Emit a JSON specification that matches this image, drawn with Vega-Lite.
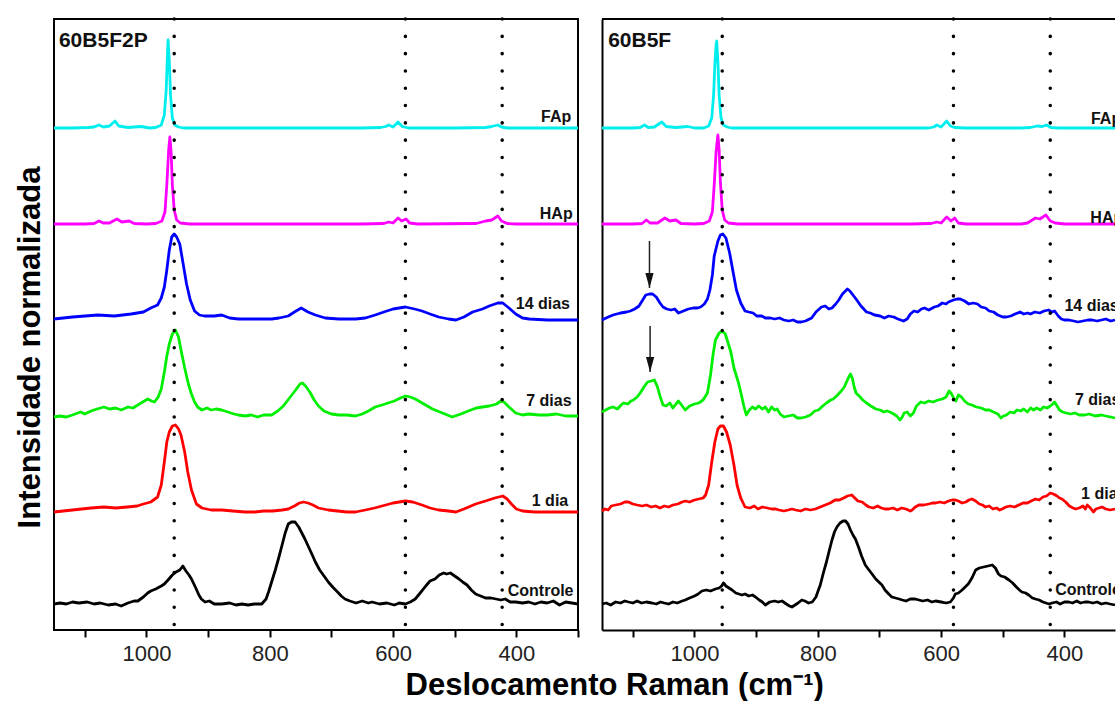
{
"$schema":"https://vega.github.io/schema/vega-lite/v6.json",
"background":"white",
"padding":{"left":13,"top":16,"right":0,"bottom":0},
"config":{"font":"Liberation Sans","view":{"stroke":"black","strokeWidth":2},"axis":{"grid":false}},
"title":{"text":"Deslocamento Raman (cm⁻¹)","orient":"bottom","anchor":"middle","fontSize":31,"fontWeight":"bold","color":"black","offset":6,"dx":50},
"bounds":"flush",
"spacing":24,
"datasets":{
"marcadores":[{"w":955},{"w":580},{"w":423}],
"paineis":[{"p":"A","t":"60B5F2P","w":1142,"i":583},{"p":"B","t":"60B5F","w":1140,"i":583}],
"setas":[{"p":"B","w":1073,"i":389,"i2":342},{"p":"B","w":1072,"i":304,"i2":258}],
"rotulos":[
{"p":"A","t":"FAp","w":360,"i":508},{"p":"A","t":"HAp","w":362,"i":411},{"p":"A","t":"14 dias","w":401,"i":321},{"p":"A","t":"7 dias","w":384,"i":224},{"p":"A","t":"1 dia","w":375,"i":124},{"p":"A","t":"Controle","w":414,"i":34},
{"p":"B","t":"FAp","w":357,"i":506},{"p":"B","t":"HAp","w":358,"i":407},{"p":"B","t":"14 dias","w":400,"i":319},{"p":"B","t":"7 dias","w":383,"i":225},{"p":"B","t":"1 dia","w":373,"i":131},{"p":"B","t":"Controle","w":415,"i":35}],
"espectros":[
{"p":"A","s":"FAp","w":1150,"i":502},{"p":"A","s":"FAp","w":1120,"i":502},{"p":"A","s":"FAp","w":1095,"i":502.5},{"p":"A","s":"FAp","w":1085,"i":503},{"p":"A","s":"FAp","w":1077,"i":505},{"p":"A","s":"FAp","w":1070,"i":503},{"p":"A","s":"FAp","w":1060,"i":504},{"p":"A","s":"FAp","w":1051,"i":509},{"p":"A","s":"FAp","w":1045,"i":504},{"p":"A","s":"FAp","w":1030,"i":502.5},{"p":"A","s":"FAp","w":1009,"i":503.5},{"p":"A","s":"FAp","w":995,"i":502},{"p":"A","s":"FAp","w":985,"i":502.5},{"p":"A","s":"FAp","w":976,"i":505},{"p":"A","s":"FAp","w":971,"i":515},{"p":"A","s":"FAp","w":968,"i":540},{"p":"A","s":"FAp","w":966,"i":575},{"p":"A","s":"FAp","w":965,"i":590},{"p":"A","s":"FAp","w":963,"i":570},{"p":"A","s":"FAp","w":961,"i":535},{"p":"A","s":"FAp","w":958,"i":512},{"p":"A","s":"FAp","w":954,"i":505},{"p":"A","s":"FAp","w":948,"i":503},{"p":"A","s":"FAp","w":940,"i":502},{"p":"A","s":"FAp","w":850,"i":502},{"p":"A","s":"FAp","w":750,"i":502},{"p":"A","s":"FAp","w":650,"i":502},{"p":"A","s":"FAp","w":620,"i":502.5},{"p":"A","s":"FAp","w":612,"i":503.5},{"p":"A","s":"FAp","w":607,"i":505},{"p":"A","s":"FAp","w":600,"i":503},{"p":"A","s":"FAp","w":592,"i":508},{"p":"A","s":"FAp","w":585,"i":503.5},{"p":"A","s":"FAp","w":575,"i":502},{"p":"A","s":"FAp","w":500,"i":502},{"p":"A","s":"FAp","w":450,"i":502.5},{"p":"A","s":"FAp","w":440,"i":503.5},{"p":"A","s":"FAp","w":430,"i":505},{"p":"A","s":"FAp","w":424,"i":503},{"p":"A","s":"FAp","w":415,"i":502},{"p":"A","s":"FAp","w":300,"i":502},
{"p":"A","s":"HAp","w":1150,"i":406},{"p":"A","s":"HAp","w":1100,"i":406},{"p":"A","s":"HAp","w":1085,"i":406.5},{"p":"A","s":"HAp","w":1077,"i":409},{"p":"A","s":"HAp","w":1070,"i":407},{"p":"A","s":"HAp","w":1060,"i":407},{"p":"A","s":"HAp","w":1048,"i":411},{"p":"A","s":"HAp","w":1040,"i":408},{"p":"A","s":"HAp","w":1028,"i":409},{"p":"A","s":"HAp","w":1020,"i":406.5},{"p":"A","s":"HAp","w":1000,"i":406},{"p":"A","s":"HAp","w":985,"i":406.5},{"p":"A","s":"HAp","w":975,"i":409},{"p":"A","s":"HAp","w":970,"i":418},{"p":"A","s":"HAp","w":967,"i":445},{"p":"A","s":"HAp","w":964,"i":480},{"p":"A","s":"HAp","w":962,"i":493},{"p":"A","s":"HAp","w":960,"i":478},{"p":"A","s":"HAp","w":958,"i":445},{"p":"A","s":"HAp","w":955,"i":420},{"p":"A","s":"HAp","w":951,"i":410},{"p":"A","s":"HAp","w":945,"i":407},{"p":"A","s":"HAp","w":930,"i":406},{"p":"A","s":"HAp","w":650,"i":406},{"p":"A","s":"HAp","w":615,"i":406.5},{"p":"A","s":"HAp","w":607,"i":408},{"p":"A","s":"HAp","w":600,"i":407},{"p":"A","s":"HAp","w":592,"i":412},{"p":"A","s":"HAp","w":586,"i":409},{"p":"A","s":"HAp","w":579,"i":411},{"p":"A","s":"HAp","w":573,"i":407},{"p":"A","s":"HAp","w":560,"i":406},{"p":"A","s":"HAp","w":465,"i":406.5},{"p":"A","s":"HAp","w":450,"i":409},{"p":"A","s":"HAp","w":440,"i":410},{"p":"A","s":"HAp","w":430,"i":414},{"p":"A","s":"HAp","w":424,"i":409},{"p":"A","s":"HAp","w":415,"i":406.5},{"p":"A","s":"HAp","w":400,"i":406},{"p":"A","s":"HAp","w":300,"i":406},
{"p":"A","s":"14 dias","w":1150,"i":311},{"p":"A","s":"14 dias","w":1120,"i":313},{"p":"A","s":"14 dias","w":1079,"i":315},{"p":"A","s":"14 dias","w":1052,"i":314},{"p":"A","s":"14 dias","w":1025,"i":316},{"p":"A","s":"14 dias","w":1005,"i":318},{"p":"A","s":"14 dias","w":993,"i":322},{"p":"A","s":"14 dias","w":982,"i":325},{"p":"A","s":"14 dias","w":976,"i":332},{"p":"A","s":"14 dias","w":971,"i":343},{"p":"A","s":"14 dias","w":967,"i":360},{"p":"A","s":"14 dias","w":963,"i":380},{"p":"A","s":"14 dias","w":959,"i":393},{"p":"A","s":"14 dias","w":955,"i":396},{"p":"A","s":"14 dias","w":951,"i":393},{"p":"A","s":"14 dias","w":946,"i":386},{"p":"A","s":"14 dias","w":941,"i":368},{"p":"A","s":"14 dias","w":935,"i":346},{"p":"A","s":"14 dias","w":929,"i":330},{"p":"A","s":"14 dias","w":922,"i":319},{"p":"A","s":"14 dias","w":914,"i":315},{"p":"A","s":"14 dias","w":906,"i":314},{"p":"A","s":"14 dias","w":890,"i":314},{"p":"A","s":"14 dias","w":878,"i":315},{"p":"A","s":"14 dias","w":865,"i":312},{"p":"A","s":"14 dias","w":851,"i":311},{"p":"A","s":"14 dias","w":820,"i":311},{"p":"A","s":"14 dias","w":797,"i":311},{"p":"A","s":"14 dias","w":785,"i":312},{"p":"A","s":"14 dias","w":770,"i":314},{"p":"A","s":"14 dias","w":760,"i":318},{"p":"A","s":"14 dias","w":749,"i":322},{"p":"A","s":"14 dias","w":738,"i":318},{"p":"A","s":"14 dias","w":726,"i":315},{"p":"A","s":"14 dias","w":710,"i":312},{"p":"A","s":"14 dias","w":688,"i":311},{"p":"A","s":"14 dias","w":661,"i":311},{"p":"A","s":"14 dias","w":645,"i":312},{"p":"A","s":"14 dias","w":629,"i":315},{"p":"A","s":"14 dias","w":615,"i":318},{"p":"A","s":"14 dias","w":600,"i":321},{"p":"A","s":"14 dias","w":580,"i":323},{"p":"A","s":"14 dias","w":565,"i":321},{"p":"A","s":"14 dias","w":553,"i":319},{"p":"A","s":"14 dias","w":540,"i":316},{"p":"A","s":"14 dias","w":526,"i":313},{"p":"A","s":"14 dias","w":510,"i":311},{"p":"A","s":"14 dias","w":498,"i":310},{"p":"A","s":"14 dias","w":485,"i":313},{"p":"A","s":"14 dias","w":471,"i":318},{"p":"A","s":"14 dias","w":455,"i":321},{"p":"A","s":"14 dias","w":444,"i":324},{"p":"A","s":"14 dias","w":430,"i":327},{"p":"A","s":"14 dias","w":422,"i":327},{"p":"A","s":"14 dias","w":412,"i":322},{"p":"A","s":"14 dias","w":401,"i":316},{"p":"A","s":"14 dias","w":390,"i":312},{"p":"A","s":"14 dias","w":379,"i":311},{"p":"A","s":"14 dias","w":350,"i":310},{"p":"A","s":"14 dias","w":300,"i":310},
{"p":"A","s":"7 dias","w":1150,"i":213},{"p":"A","s":"7 dias","w":1140,"i":214},{"p":"A","s":"7 dias","w":1130,"i":213},{"p":"A","s":"7 dias","w":1120,"i":215},{"p":"A","s":"7 dias","w":1107,"i":218},{"p":"A","s":"7 dias","w":1100,"i":216},{"p":"A","s":"7 dias","w":1090,"i":219},{"p":"A","s":"7 dias","w":1080,"i":221},{"p":"A","s":"7 dias","w":1069,"i":223},{"p":"A","s":"7 dias","w":1060,"i":221},{"p":"A","s":"7 dias","w":1050,"i":222},{"p":"A","s":"7 dias","w":1041,"i":220},{"p":"A","s":"7 dias","w":1030,"i":223},{"p":"A","s":"7 dias","w":1022,"i":222},{"p":"A","s":"7 dias","w":1014,"i":225},{"p":"A","s":"7 dias","w":1006,"i":228},{"p":"A","s":"7 dias","w":998,"i":231},{"p":"A","s":"7 dias","w":992,"i":229},{"p":"A","s":"7 dias","w":987,"i":228},{"p":"A","s":"7 dias","w":981,"i":233},{"p":"A","s":"7 dias","w":976,"i":241},{"p":"A","s":"7 dias","w":971,"i":258},{"p":"A","s":"7 dias","w":967,"i":274},{"p":"A","s":"7 dias","w":963,"i":286},{"p":"A","s":"7 dias","w":958,"i":296},{"p":"A","s":"7 dias","w":953,"i":300},{"p":"A","s":"7 dias","w":948,"i":293},{"p":"A","s":"7 dias","w":944,"i":280},{"p":"A","s":"7 dias","w":938,"i":262},{"p":"A","s":"7 dias","w":932,"i":246},{"p":"A","s":"7 dias","w":927,"i":236},{"p":"A","s":"7 dias","w":922,"i":228},{"p":"A","s":"7 dias","w":917,"i":223},{"p":"A","s":"7 dias","w":910,"i":220},{"p":"A","s":"7 dias","w":902,"i":222},{"p":"A","s":"7 dias","w":895,"i":220},{"p":"A","s":"7 dias","w":887,"i":221},{"p":"A","s":"7 dias","w":878,"i":220},{"p":"A","s":"7 dias","w":868,"i":218},{"p":"A","s":"7 dias","w":858,"i":216},{"p":"A","s":"7 dias","w":851,"i":215},{"p":"A","s":"7 dias","w":840,"i":214},{"p":"A","s":"7 dias","w":830,"i":215},{"p":"A","s":"7 dias","w":820,"i":213},{"p":"A","s":"7 dias","w":810,"i":215},{"p":"A","s":"7 dias","w":797,"i":215},{"p":"A","s":"7 dias","w":787,"i":219},{"p":"A","s":"7 dias","w":778,"i":224},{"p":"A","s":"7 dias","w":768,"i":232},{"p":"A","s":"7 dias","w":758,"i":240},{"p":"A","s":"7 dias","w":751,"i":246},{"p":"A","s":"7 dias","w":747,"i":247},{"p":"A","s":"7 dias","w":742,"i":244},{"p":"A","s":"7 dias","w":735,"i":238},{"p":"A","s":"7 dias","w":728,"i":230},{"p":"A","s":"7 dias","w":721,"i":224},{"p":"A","s":"7 dias","w":712,"i":219},{"p":"A","s":"7 dias","w":700,"i":216},{"p":"A","s":"7 dias","w":688,"i":215},{"p":"A","s":"7 dias","w":675,"i":215},{"p":"A","s":"7 dias","w":661,"i":214},{"p":"A","s":"7 dias","w":650,"i":216},{"p":"A","s":"7 dias","w":640,"i":219},{"p":"A","s":"7 dias","w":629,"i":223},{"p":"A","s":"7 dias","w":618,"i":225},{"p":"A","s":"7 dias","w":608,"i":227},{"p":"A","s":"7 dias","w":598,"i":229},{"p":"A","s":"7 dias","w":588,"i":232},{"p":"A","s":"7 dias","w":580,"i":234},{"p":"A","s":"7 dias","w":572,"i":233},{"p":"A","s":"7 dias","w":564,"i":231},{"p":"A","s":"7 dias","w":550,"i":226},{"p":"A","s":"7 dias","w":536,"i":221},{"p":"A","s":"7 dias","w":520,"i":217},{"p":"A","s":"7 dias","w":504,"i":213},{"p":"A","s":"7 dias","w":490,"i":216},{"p":"A","s":"7 dias","w":478,"i":219},{"p":"A","s":"7 dias","w":465,"i":222},{"p":"A","s":"7 dias","w":455,"i":223},{"p":"A","s":"7 dias","w":444,"i":224},{"p":"A","s":"7 dias","w":432,"i":226},{"p":"A","s":"7 dias","w":425,"i":229},{"p":"A","s":"7 dias","w":420,"i":228},{"p":"A","s":"7 dias","w":412,"i":223},{"p":"A","s":"7 dias","w":401,"i":217},{"p":"A","s":"7 dias","w":390,"i":215},{"p":"A","s":"7 dias","w":380,"i":216},{"p":"A","s":"7 dias","w":363,"i":215},{"p":"A","s":"7 dias","w":350,"i":215},{"p":"A","s":"7 dias","w":335,"i":216},{"p":"A","s":"7 dias","w":320,"i":214},{"p":"A","s":"7 dias","w":300,"i":214},
{"p":"A","s":"1 dia","w":1150,"i":118},{"p":"A","s":"1 dia","w":1135,"i":119},{"p":"A","s":"1 dia","w":1120,"i":120},{"p":"A","s":"1 dia","w":1105,"i":121},{"p":"A","s":"1 dia","w":1090,"i":122},{"p":"A","s":"1 dia","w":1069,"i":123},{"p":"A","s":"1 dia","w":1050,"i":122},{"p":"A","s":"1 dia","w":1031,"i":123},{"p":"A","s":"1 dia","w":1015,"i":124},{"p":"A","s":"1 dia","w":1005,"i":126},{"p":"A","s":"1 dia","w":993,"i":128},{"p":"A","s":"1 dia","w":982,"i":133},{"p":"A","s":"1 dia","w":976,"i":145},{"p":"A","s":"1 dia","w":971,"i":168},{"p":"A","s":"1 dia","w":967,"i":188},{"p":"A","s":"1 dia","w":963,"i":198},{"p":"A","s":"1 dia","w":958,"i":204},{"p":"A","s":"1 dia","w":953,"i":205},{"p":"A","s":"1 dia","w":948,"i":201},{"p":"A","s":"1 dia","w":944,"i":195},{"p":"A","s":"1 dia","w":938,"i":178},{"p":"A","s":"1 dia","w":933,"i":158},{"p":"A","s":"1 dia","w":927,"i":140},{"p":"A","s":"1 dia","w":919,"i":126},{"p":"A","s":"1 dia","w":910,"i":122},{"p":"A","s":"1 dia","w":895,"i":120},{"p":"A","s":"1 dia","w":878,"i":120},{"p":"A","s":"1 dia","w":860,"i":119},{"p":"A","s":"1 dia","w":840,"i":118},{"p":"A","s":"1 dia","w":824,"i":118},{"p":"A","s":"1 dia","w":810,"i":119},{"p":"A","s":"1 dia","w":795,"i":119},{"p":"A","s":"1 dia","w":780,"i":120},{"p":"A","s":"1 dia","w":770,"i":121},{"p":"A","s":"1 dia","w":760,"i":124},{"p":"A","s":"1 dia","w":752,"i":127},{"p":"A","s":"1 dia","w":745,"i":128},{"p":"A","s":"1 dia","w":738,"i":127},{"p":"A","s":"1 dia","w":730,"i":125},{"p":"A","s":"1 dia","w":721,"i":122},{"p":"A","s":"1 dia","w":705,"i":120},{"p":"A","s":"1 dia","w":690,"i":119},{"p":"A","s":"1 dia","w":675,"i":118},{"p":"A","s":"1 dia","w":661,"i":118},{"p":"A","s":"1 dia","w":645,"i":120},{"p":"A","s":"1 dia","w":630,"i":122},{"p":"A","s":"1 dia","w":618,"i":124},{"p":"A","s":"1 dia","w":600,"i":127},{"p":"A","s":"1 dia","w":580,"i":129},{"p":"A","s":"1 dia","w":568,"i":128},{"p":"A","s":"1 dia","w":553,"i":125},{"p":"A","s":"1 dia","w":540,"i":122},{"p":"A","s":"1 dia","w":526,"i":120},{"p":"A","s":"1 dia","w":510,"i":119},{"p":"A","s":"1 dia","w":498,"i":118},{"p":"A","s":"1 dia","w":485,"i":121},{"p":"A","s":"1 dia","w":466,"i":126},{"p":"A","s":"1 dia","w":450,"i":129},{"p":"A","s":"1 dia","w":435,"i":132},{"p":"A","s":"1 dia","w":422,"i":134},{"p":"A","s":"1 dia","w":415,"i":131},{"p":"A","s":"1 dia","w":408,"i":126},{"p":"A","s":"1 dia","w":400,"i":121},{"p":"A","s":"1 dia","w":390,"i":119},{"p":"A","s":"1 dia","w":370,"i":118},{"p":"A","s":"1 dia","w":340,"i":118},{"p":"A","s":"1 dia","w":300,"i":118},
{"p":"A","s":"Controle","w":1150,"i":26},{"p":"A","s":"Controle","w":1140,"i":27},{"p":"A","s":"Controle","w":1130,"i":26},{"p":"A","s":"Controle","w":1120,"i":28},{"p":"A","s":"Controle","w":1110,"i":27},{"p":"A","s":"Controle","w":1096,"i":28},{"p":"A","s":"Controle","w":1085,"i":26},{"p":"A","s":"Controle","w":1075,"i":27},{"p":"A","s":"Controle","w":1062,"i":25},{"p":"A","s":"Controle","w":1050,"i":26},{"p":"A","s":"Controle","w":1041,"i":24},{"p":"A","s":"Controle","w":1030,"i":27},{"p":"A","s":"Controle","w":1020,"i":29},{"p":"A","s":"Controle","w":1014,"i":29},{"p":"A","s":"Controle","w":1005,"i":33},{"p":"A","s":"Controle","w":998,"i":37},{"p":"A","s":"Controle","w":993,"i":39},{"p":"A","s":"Controle","w":985,"i":41},{"p":"A","s":"Controle","w":976,"i":44},{"p":"A","s":"Controle","w":971,"i":46},{"p":"A","s":"Controle","w":965,"i":50},{"p":"A","s":"Controle","w":958,"i":55},{"p":"A","s":"Controle","w":952,"i":58},{"p":"A","s":"Controle","w":946,"i":60},{"p":"A","s":"Controle","w":941,"i":64},{"p":"A","s":"Controle","w":936,"i":59},{"p":"A","s":"Controle","w":931,"i":55},{"p":"A","s":"Controle","w":927,"i":51},{"p":"A","s":"Controle","w":920,"i":42},{"p":"A","s":"Controle","w":915,"i":35},{"p":"A","s":"Controle","w":911,"i":31},{"p":"A","s":"Controle","w":905,"i":28},{"p":"A","s":"Controle","w":898,"i":29},{"p":"A","s":"Controle","w":890,"i":26},{"p":"A","s":"Controle","w":878,"i":26},{"p":"A","s":"Controle","w":865,"i":27},{"p":"A","s":"Controle","w":855,"i":25},{"p":"A","s":"Controle","w":845,"i":26},{"p":"A","s":"Controle","w":835,"i":25},{"p":"A","s":"Controle","w":825,"i":26},{"p":"A","s":"Controle","w":813,"i":26},{"p":"A","s":"Controle","w":806,"i":31},{"p":"A","s":"Controle","w":802,"i":38},{"p":"A","s":"Controle","w":797,"i":48},{"p":"A","s":"Controle","w":791,"i":60},{"p":"A","s":"Controle","w":786,"i":71},{"p":"A","s":"Controle","w":780,"i":85},{"p":"A","s":"Controle","w":775,"i":97},{"p":"A","s":"Controle","w":770,"i":106},{"p":"A","s":"Controle","w":765,"i":108},{"p":"A","s":"Controle","w":759,"i":108},{"p":"A","s":"Controle","w":753,"i":103},{"p":"A","s":"Controle","w":748,"i":97},{"p":"A","s":"Controle","w":743,"i":91},{"p":"A","s":"Controle","w":737,"i":83},{"p":"A","s":"Controle","w":731,"i":75},{"p":"A","s":"Controle","w":726,"i":68},{"p":"A","s":"Controle","w":719,"i":60},{"p":"A","s":"Controle","w":712,"i":54},{"p":"A","s":"Controle","w":705,"i":48},{"p":"A","s":"Controle","w":698,"i":43},{"p":"A","s":"Controle","w":690,"i":38},{"p":"A","s":"Controle","w":684,"i":34},{"p":"A","s":"Controle","w":678,"i":31},{"p":"A","s":"Controle","w":670,"i":29},{"p":"A","s":"Controle","w":660,"i":27},{"p":"A","s":"Controle","w":650,"i":29},{"p":"A","s":"Controle","w":640,"i":27},{"p":"A","s":"Controle","w":634,"i":28},{"p":"A","s":"Controle","w":622,"i":26},{"p":"A","s":"Controle","w":610,"i":27},{"p":"A","s":"Controle","w":598,"i":25},{"p":"A","s":"Controle","w":590,"i":27},{"p":"A","s":"Controle","w":580,"i":26},{"p":"A","s":"Controle","w":572,"i":28},{"p":"A","s":"Controle","w":564,"i":31},{"p":"A","s":"Controle","w":556,"i":37},{"p":"A","s":"Controle","w":547,"i":44},{"p":"A","s":"Controle","w":540,"i":49},{"p":"A","s":"Controle","w":532,"i":51},{"p":"A","s":"Controle","w":525,"i":55},{"p":"A","s":"Controle","w":518,"i":57},{"p":"A","s":"Controle","w":513,"i":56},{"p":"A","s":"Controle","w":507,"i":57},{"p":"A","s":"Controle","w":500,"i":54},{"p":"A","s":"Controle","w":493,"i":51},{"p":"A","s":"Controle","w":487,"i":48},{"p":"A","s":"Controle","w":480,"i":45},{"p":"A","s":"Controle","w":473,"i":40},{"p":"A","s":"Controle","w":466,"i":36},{"p":"A","s":"Controle","w":458,"i":34},{"p":"A","s":"Controle","w":450,"i":32},{"p":"A","s":"Controle","w":441,"i":32},{"p":"A","s":"Controle","w":433,"i":31},{"p":"A","s":"Controle","w":425,"i":30},{"p":"A","s":"Controle","w":418,"i":31},{"p":"A","s":"Controle","w":410,"i":28},{"p":"A","s":"Controle","w":401,"i":28},{"p":"A","s":"Controle","w":390,"i":27},{"p":"A","s":"Controle","w":380,"i":28},{"p":"A","s":"Controle","w":370,"i":26},{"p":"A","s":"Controle","w":360,"i":28},{"p":"A","s":"Controle","w":350,"i":27},{"p":"A","s":"Controle","w":340,"i":29},{"p":"A","s":"Controle","w":330,"i":25},{"p":"A","s":"Controle","w":320,"i":28},{"p":"A","s":"Controle","w":310,"i":27},{"p":"A","s":"Controle","w":300,"i":26},
{"p":"B","s":"FAp","w":1150,"i":502},{"p":"B","s":"FAp","w":1100,"i":502},{"p":"B","s":"FAp","w":1088,"i":502.5},{"p":"B","s":"FAp","w":1081,"i":505},{"p":"B","s":"FAp","w":1075,"i":502.5},{"p":"B","s":"FAp","w":1065,"i":503},{"p":"B","s":"FAp","w":1053,"i":508},{"p":"B","s":"FAp","w":1046,"i":503.5},{"p":"B","s":"FAp","w":1030,"i":502.5},{"p":"B","s":"FAp","w":1011,"i":503.5},{"p":"B","s":"FAp","w":1000,"i":502},{"p":"B","s":"FAp","w":985,"i":502},{"p":"B","s":"FAp","w":977,"i":504},{"p":"B","s":"FAp","w":972,"i":512},{"p":"B","s":"FAp","w":969,"i":535},{"p":"B","s":"FAp","w":967,"i":565},{"p":"B","s":"FAp","w":965,"i":585},{"p":"B","s":"FAp","w":964,"i":589},{"p":"B","s":"FAp","w":962,"i":568},{"p":"B","s":"FAp","w":960,"i":535},{"p":"B","s":"FAp","w":957,"i":512},{"p":"B","s":"FAp","w":953,"i":505},{"p":"B","s":"FAp","w":947,"i":503},{"p":"B","s":"FAp","w":940,"i":502},{"p":"B","s":"FAp","w":800,"i":502},{"p":"B","s":"FAp","w":700,"i":502},{"p":"B","s":"FAp","w":620,"i":502},{"p":"B","s":"FAp","w":612,"i":503},{"p":"B","s":"FAp","w":607,"i":505},{"p":"B","s":"FAp","w":600,"i":503},{"p":"B","s":"FAp","w":591,"i":509},{"p":"B","s":"FAp","w":585,"i":504},{"p":"B","s":"FAp","w":578,"i":502.5},{"p":"B","s":"FAp","w":560,"i":502},{"p":"B","s":"FAp","w":470,"i":502},{"p":"B","s":"FAp","w":455,"i":502.5},{"p":"B","s":"FAp","w":444,"i":504},{"p":"B","s":"FAp","w":436,"i":503.5},{"p":"B","s":"FAp","w":429,"i":505},{"p":"B","s":"FAp","w":422,"i":502.5},{"p":"B","s":"FAp","w":410,"i":502},{"p":"B","s":"FAp","w":318,"i":502},
{"p":"B","s":"HAp","w":1150,"i":406},{"p":"B","s":"HAp","w":1100,"i":406},{"p":"B","s":"HAp","w":1085,"i":406.5},{"p":"B","s":"HAp","w":1078,"i":410},{"p":"B","s":"HAp","w":1072,"i":407},{"p":"B","s":"HAp","w":1060,"i":407},{"p":"B","s":"HAp","w":1048,"i":412},{"p":"B","s":"HAp","w":1040,"i":409},{"p":"B","s":"HAp","w":1030,"i":410},{"p":"B","s":"HAp","w":1022,"i":406.5},{"p":"B","s":"HAp","w":1000,"i":406},{"p":"B","s":"HAp","w":985,"i":406.5},{"p":"B","s":"HAp","w":976,"i":409},{"p":"B","s":"HAp","w":971,"i":418},{"p":"B","s":"HAp","w":968,"i":445},{"p":"B","s":"HAp","w":965,"i":478},{"p":"B","s":"HAp","w":962,"i":495},{"p":"B","s":"HAp","w":960,"i":480},{"p":"B","s":"HAp","w":958,"i":448},{"p":"B","s":"HAp","w":955,"i":420},{"p":"B","s":"HAp","w":951,"i":410},{"p":"B","s":"HAp","w":945,"i":407},{"p":"B","s":"HAp","w":930,"i":406},{"p":"B","s":"HAp","w":650,"i":406},{"p":"B","s":"HAp","w":616,"i":406.5},{"p":"B","s":"HAp","w":607,"i":408},{"p":"B","s":"HAp","w":600,"i":407},{"p":"B","s":"HAp","w":591,"i":413},{"p":"B","s":"HAp","w":584,"i":409},{"p":"B","s":"HAp","w":578,"i":412},{"p":"B","s":"HAp","w":572,"i":407},{"p":"B","s":"HAp","w":560,"i":406},{"p":"B","s":"HAp","w":470,"i":406},{"p":"B","s":"HAp","w":460,"i":407},{"p":"B","s":"HAp","w":447,"i":412},{"p":"B","s":"HAp","w":440,"i":411},{"p":"B","s":"HAp","w":430,"i":415},{"p":"B","s":"HAp","w":423,"i":409},{"p":"B","s":"HAp","w":415,"i":407},{"p":"B","s":"HAp","w":400,"i":406},{"p":"B","s":"HAp","w":318,"i":406},
{"p":"B","s":"14 dias","w":1150,"i":310},{"p":"B","s":"14 dias","w":1140,"i":313},{"p":"B","s":"14 dias","w":1132,"i":315},{"p":"B","s":"14 dias","w":1120,"i":317},{"p":"B","s":"14 dias","w":1110,"i":318},{"p":"B","s":"14 dias","w":1104,"i":319},{"p":"B","s":"14 dias","w":1097,"i":321},{"p":"B","s":"14 dias","w":1090,"i":324},{"p":"B","s":"14 dias","w":1084,"i":330},{"p":"B","s":"14 dias","w":1079,"i":335},{"p":"B","s":"14 dias","w":1073,"i":336},{"p":"B","s":"14 dias","w":1068,"i":336},{"p":"B","s":"14 dias","w":1062,"i":333},{"p":"B","s":"14 dias","w":1056,"i":327},{"p":"B","s":"14 dias","w":1051,"i":323},{"p":"B","s":"14 dias","w":1045,"i":321},{"p":"B","s":"14 dias","w":1038,"i":320},{"p":"B","s":"14 dias","w":1032,"i":321},{"p":"B","s":"14 dias","w":1026,"i":317},{"p":"B","s":"14 dias","w":1018,"i":319},{"p":"B","s":"14 dias","w":1010,"i":321},{"p":"B","s":"14 dias","w":1002,"i":322},{"p":"B","s":"14 dias","w":995,"i":322},{"p":"B","s":"14 dias","w":990,"i":323},{"p":"B","s":"14 dias","w":984,"i":326},{"p":"B","s":"14 dias","w":979,"i":331},{"p":"B","s":"14 dias","w":975,"i":340},{"p":"B","s":"14 dias","w":971,"i":355},{"p":"B","s":"14 dias","w":968,"i":374},{"p":"B","s":"14 dias","w":962,"i":389},{"p":"B","s":"14 dias","w":958,"i":395},{"p":"B","s":"14 dias","w":954,"i":396},{"p":"B","s":"14 dias","w":949,"i":392},{"p":"B","s":"14 dias","w":943,"i":377},{"p":"B","s":"14 dias","w":938,"i":360},{"p":"B","s":"14 dias","w":932,"i":340},{"p":"B","s":"14 dias","w":925,"i":327},{"p":"B","s":"14 dias","w":918,"i":319},{"p":"B","s":"14 dias","w":912,"i":318},{"p":"B","s":"14 dias","w":905,"i":317},{"p":"B","s":"14 dias","w":899,"i":314},{"p":"B","s":"14 dias","w":891,"i":314},{"p":"B","s":"14 dias","w":885,"i":312},{"p":"B","s":"14 dias","w":877,"i":312},{"p":"B","s":"14 dias","w":870,"i":311},{"p":"B","s":"14 dias","w":862,"i":312},{"p":"B","s":"14 dias","w":855,"i":310},{"p":"B","s":"14 dias","w":847,"i":309},{"p":"B","s":"14 dias","w":840,"i":310},{"p":"B","s":"14 dias","w":833,"i":308},{"p":"B","s":"14 dias","w":827,"i":308},{"p":"B","s":"14 dias","w":820,"i":309},{"p":"B","s":"14 dias","w":810,"i":312},{"p":"B","s":"14 dias","w":803,"i":318},{"p":"B","s":"14 dias","w":794,"i":323},{"p":"B","s":"14 dias","w":788,"i":324},{"p":"B","s":"14 dias","w":782,"i":321},{"p":"B","s":"14 dias","w":777,"i":322},{"p":"B","s":"14 dias","w":771,"i":326},{"p":"B","s":"14 dias","w":766,"i":330},{"p":"B","s":"14 dias","w":760,"i":336},{"p":"B","s":"14 dias","w":752,"i":341},{"p":"B","s":"14 dias","w":748,"i":339},{"p":"B","s":"14 dias","w":743,"i":335},{"p":"B","s":"14 dias","w":738,"i":331},{"p":"B","s":"14 dias","w":730,"i":324},{"p":"B","s":"14 dias","w":721,"i":318},{"p":"B","s":"14 dias","w":715,"i":317},{"p":"B","s":"14 dias","w":708,"i":315},{"p":"B","s":"14 dias","w":699,"i":314},{"p":"B","s":"14 dias","w":692,"i":312},{"p":"B","s":"14 dias","w":685,"i":314},{"p":"B","s":"14 dias","w":677,"i":313},{"p":"B","s":"14 dias","w":670,"i":311},{"p":"B","s":"14 dias","w":661,"i":309},{"p":"B","s":"14 dias","w":655,"i":311},{"p":"B","s":"14 dias","w":650,"i":316},{"p":"B","s":"14 dias","w":644,"i":319},{"p":"B","s":"14 dias","w":638,"i":318},{"p":"B","s":"14 dias","w":632,"i":321},{"p":"B","s":"14 dias","w":627,"i":322},{"p":"B","s":"14 dias","w":620,"i":320},{"p":"B","s":"14 dias","w":611,"i":323},{"p":"B","s":"14 dias","w":605,"i":324},{"p":"B","s":"14 dias","w":598,"i":327},{"p":"B","s":"14 dias","w":592,"i":326},{"p":"B","s":"14 dias","w":588,"i":328},{"p":"B","s":"14 dias","w":580,"i":330},{"p":"B","s":"14 dias","w":574,"i":331},{"p":"B","s":"14 dias","w":569,"i":331},{"p":"B","s":"14 dias","w":562,"i":329},{"p":"B","s":"14 dias","w":555,"i":326},{"p":"B","s":"14 dias","w":548,"i":327},{"p":"B","s":"14 dias","w":541,"i":326},{"p":"B","s":"14 dias","w":535,"i":323},{"p":"B","s":"14 dias","w":528,"i":322},{"p":"B","s":"14 dias","w":522,"i":319},{"p":"B","s":"14 dias","w":515,"i":318},{"p":"B","s":"14 dias","w":508,"i":315},{"p":"B","s":"14 dias","w":500,"i":313},{"p":"B","s":"14 dias","w":494,"i":313},{"p":"B","s":"14 dias","w":487,"i":314},{"p":"B","s":"14 dias","w":480,"i":316},{"p":"B","s":"14 dias","w":472,"i":318},{"p":"B","s":"14 dias","w":466,"i":316},{"p":"B","s":"14 dias","w":460,"i":317},{"p":"B","s":"14 dias","w":455,"i":316},{"p":"B","s":"14 dias","w":448,"i":318},{"p":"B","s":"14 dias","w":440,"i":317},{"p":"B","s":"14 dias","w":433,"i":319},{"p":"B","s":"14 dias","w":426,"i":320},{"p":"B","s":"14 dias","w":420,"i":318},{"p":"B","s":"14 dias","w":416,"i":319},{"p":"B","s":"14 dias","w":410,"i":314},{"p":"B","s":"14 dias","w":405,"i":311},{"p":"B","s":"14 dias","w":400,"i":310},{"p":"B","s":"14 dias","w":393,"i":310},{"p":"B","s":"14 dias","w":385,"i":309},{"p":"B","s":"14 dias","w":378,"i":308},{"p":"B","s":"14 dias","w":370,"i":309},{"p":"B","s":"14 dias","w":362,"i":310},{"p":"B","s":"14 dias","w":355,"i":310},{"p":"B","s":"14 dias","w":347,"i":309},{"p":"B","s":"14 dias","w":340,"i":310},{"p":"B","s":"14 dias","w":333,"i":311},{"p":"B","s":"14 dias","w":325,"i":309},{"p":"B","s":"14 dias","w":318,"i":310},
{"p":"B","s":"7 dias","w":1150,"i":218},{"p":"B","s":"7 dias","w":1144,"i":220},{"p":"B","s":"7 dias","w":1138,"i":222},{"p":"B","s":"7 dias","w":1132,"i":223},{"p":"B","s":"7 dias","w":1125,"i":221},{"p":"B","s":"7 dias","w":1119,"i":225},{"p":"B","s":"7 dias","w":1115,"i":227},{"p":"B","s":"7 dias","w":1108,"i":226},{"p":"B","s":"7 dias","w":1103,"i":229},{"p":"B","s":"7 dias","w":1099,"i":230},{"p":"B","s":"7 dias","w":1093,"i":233},{"p":"B","s":"7 dias","w":1088,"i":237},{"p":"B","s":"7 dias","w":1082,"i":243},{"p":"B","s":"7 dias","w":1076,"i":248},{"p":"B","s":"7 dias","w":1070,"i":249},{"p":"B","s":"7 dias","w":1065,"i":250},{"p":"B","s":"7 dias","w":1060,"i":243},{"p":"B","s":"7 dias","w":1056,"i":234},{"p":"B","s":"7 dias","w":1051,"i":225},{"p":"B","s":"7 dias","w":1046,"i":224},{"p":"B","s":"7 dias","w":1040,"i":227},{"p":"B","s":"7 dias","w":1035,"i":222},{"p":"B","s":"7 dias","w":1030,"i":226},{"p":"B","s":"7 dias","w":1026,"i":229},{"p":"B","s":"7 dias","w":1021,"i":225},{"p":"B","s":"7 dias","w":1015,"i":220},{"p":"B","s":"7 dias","w":1008,"i":224},{"p":"B","s":"7 dias","w":1000,"i":226},{"p":"B","s":"7 dias","w":993,"i":227},{"p":"B","s":"7 dias","w":986,"i":230},{"p":"B","s":"7 dias","w":979,"i":237},{"p":"B","s":"7 dias","w":974,"i":255},{"p":"B","s":"7 dias","w":970,"i":275},{"p":"B","s":"7 dias","w":966,"i":290},{"p":"B","s":"7 dias","w":960,"i":297},{"p":"B","s":"7 dias","w":955,"i":299},{"p":"B","s":"7 dias","w":950,"i":296},{"p":"B","s":"7 dias","w":946,"i":288},{"p":"B","s":"7 dias","w":941,"i":278},{"p":"B","s":"7 dias","w":936,"i":262},{"p":"B","s":"7 dias","w":929,"i":248},{"p":"B","s":"7 dias","w":925,"i":238},{"p":"B","s":"7 dias","w":920,"i":224},{"p":"B","s":"7 dias","w":916,"i":215},{"p":"B","s":"7 dias","w":911,"i":220},{"p":"B","s":"7 dias","w":906,"i":223},{"p":"B","s":"7 dias","w":901,"i":221},{"p":"B","s":"7 dias","w":896,"i":224},{"p":"B","s":"7 dias","w":890,"i":221},{"p":"B","s":"7 dias","w":885,"i":223},{"p":"B","s":"7 dias","w":880,"i":218},{"p":"B","s":"7 dias","w":875,"i":223},{"p":"B","s":"7 dias","w":870,"i":220},{"p":"B","s":"7 dias","w":866,"i":221},{"p":"B","s":"7 dias","w":861,"i":216},{"p":"B","s":"7 dias","w":855,"i":213},{"p":"B","s":"7 dias","w":848,"i":214},{"p":"B","s":"7 dias","w":840,"i":215},{"p":"B","s":"7 dias","w":833,"i":212},{"p":"B","s":"7 dias","w":827,"i":212},{"p":"B","s":"7 dias","w":820,"i":213},{"p":"B","s":"7 dias","w":812,"i":215},{"p":"B","s":"7 dias","w":805,"i":219},{"p":"B","s":"7 dias","w":799,"i":220},{"p":"B","s":"7 dias","w":792,"i":224},{"p":"B","s":"7 dias","w":786,"i":227},{"p":"B","s":"7 dias","w":779,"i":230},{"p":"B","s":"7 dias","w":775,"i":231},{"p":"B","s":"7 dias","w":768,"i":235},{"p":"B","s":"7 dias","w":762,"i":239},{"p":"B","s":"7 dias","w":757,"i":243},{"p":"B","s":"7 dias","w":752,"i":250},{"p":"B","s":"7 dias","w":747,"i":256},{"p":"B","s":"7 dias","w":744,"i":252},{"p":"B","s":"7 dias","w":741,"i":243},{"p":"B","s":"7 dias","w":738,"i":237},{"p":"B","s":"7 dias","w":733,"i":234},{"p":"B","s":"7 dias","w":727,"i":230},{"p":"B","s":"7 dias","w":721,"i":227},{"p":"B","s":"7 dias","w":714,"i":224},{"p":"B","s":"7 dias","w":706,"i":221},{"p":"B","s":"7 dias","w":699,"i":220},{"p":"B","s":"7 dias","w":693,"i":218},{"p":"B","s":"7 dias","w":688,"i":219},{"p":"B","s":"7 dias","w":683,"i":218},{"p":"B","s":"7 dias","w":677,"i":216},{"p":"B","s":"7 dias","w":672,"i":214},{"p":"B","s":"7 dias","w":667,"i":210},{"p":"B","s":"7 dias","w":663,"i":213},{"p":"B","s":"7 dias","w":660,"i":217},{"p":"B","s":"7 dias","w":655,"i":218},{"p":"B","s":"7 dias","w":650,"i":214},{"p":"B","s":"7 dias","w":645,"i":217},{"p":"B","s":"7 dias","w":640,"i":224},{"p":"B","s":"7 dias","w":633,"i":228},{"p":"B","s":"7 dias","w":627,"i":227},{"p":"B","s":"7 dias","w":620,"i":229},{"p":"B","s":"7 dias","w":613,"i":228},{"p":"B","s":"7 dias","w":605,"i":230},{"p":"B","s":"7 dias","w":598,"i":231},{"p":"B","s":"7 dias","w":592,"i":233},{"p":"B","s":"7 dias","w":587,"i":239},{"p":"B","s":"7 dias","w":583,"i":236},{"p":"B","s":"7 dias","w":579,"i":231},{"p":"B","s":"7 dias","w":576,"i":229},{"p":"B","s":"7 dias","w":572,"i":235},{"p":"B","s":"7 dias","w":567,"i":233},{"p":"B","s":"7 dias","w":562,"i":229},{"p":"B","s":"7 dias","w":556,"i":226},{"p":"B","s":"7 dias","w":550,"i":225},{"p":"B","s":"7 dias","w":543,"i":223},{"p":"B","s":"7 dias","w":535,"i":222},{"p":"B","s":"7 dias","w":528,"i":220},{"p":"B","s":"7 dias","w":522,"i":220},{"p":"B","s":"7 dias","w":515,"i":218},{"p":"B","s":"7 dias","w":508,"i":216},{"p":"B","s":"7 dias","w":503,"i":212},{"p":"B","s":"7 dias","w":499,"i":214},{"p":"B","s":"7 dias","w":494,"i":215},{"p":"B","s":"7 dias","w":488,"i":218},{"p":"B","s":"7 dias","w":482,"i":217},{"p":"B","s":"7 dias","w":477,"i":220},{"p":"B","s":"7 dias","w":471,"i":219},{"p":"B","s":"7 dias","w":466,"i":221},{"p":"B","s":"7 dias","w":460,"i":218},{"p":"B","s":"7 dias","w":455,"i":222},{"p":"B","s":"7 dias","w":450,"i":220},{"p":"B","s":"7 dias","w":445,"i":222},{"p":"B","s":"7 dias","w":439,"i":220},{"p":"B","s":"7 dias","w":434,"i":223},{"p":"B","s":"7 dias","w":428,"i":222},{"p":"B","s":"7 dias","w":423,"i":224},{"p":"B","s":"7 dias","w":419,"i":226},{"p":"B","s":"7 dias","w":416,"i":228},{"p":"B","s":"7 dias","w":412,"i":224},{"p":"B","s":"7 dias","w":408,"i":220},{"p":"B","s":"7 dias","w":403,"i":218},{"p":"B","s":"7 dias","w":397,"i":217},{"p":"B","s":"7 dias","w":390,"i":216},{"p":"B","s":"7 dias","w":383,"i":217},{"p":"B","s":"7 dias","w":376,"i":215},{"p":"B","s":"7 dias","w":367,"i":215},{"p":"B","s":"7 dias","w":360,"i":216},{"p":"B","s":"7 dias","w":350,"i":214},{"p":"B","s":"7 dias","w":340,"i":215},{"p":"B","s":"7 dias","w":333,"i":214},{"p":"B","s":"7 dias","w":325,"i":213},{"p":"B","s":"7 dias","w":318,"i":212},
{"p":"B","s":"1 dia","w":1150,"i":119},{"p":"B","s":"1 dia","w":1145,"i":121},{"p":"B","s":"1 dia","w":1140,"i":120},{"p":"B","s":"1 dia","w":1135,"i":124},{"p":"B","s":"1 dia","w":1128,"i":125},{"p":"B","s":"1 dia","w":1120,"i":126},{"p":"B","s":"1 dia","w":1113,"i":128},{"p":"B","s":"1 dia","w":1107,"i":128},{"p":"B","s":"1 dia","w":1100,"i":126},{"p":"B","s":"1 dia","w":1093,"i":125},{"p":"B","s":"1 dia","w":1085,"i":124},{"p":"B","s":"1 dia","w":1078,"i":125},{"p":"B","s":"1 dia","w":1070,"i":123},{"p":"B","s":"1 dia","w":1063,"i":124},{"p":"B","s":"1 dia","w":1056,"i":122},{"p":"B","s":"1 dia","w":1049,"i":124},{"p":"B","s":"1 dia","w":1042,"i":123},{"p":"B","s":"1 dia","w":1035,"i":125},{"p":"B","s":"1 dia","w":1027,"i":126},{"p":"B","s":"1 dia","w":1020,"i":128},{"p":"B","s":"1 dia","w":1015,"i":129},{"p":"B","s":"1 dia","w":1008,"i":128},{"p":"B","s":"1 dia","w":1000,"i":130},{"p":"B","s":"1 dia","w":993,"i":131},{"p":"B","s":"1 dia","w":986,"i":132},{"p":"B","s":"1 dia","w":982,"i":135},{"p":"B","s":"1 dia","w":977,"i":145},{"p":"B","s":"1 dia","w":972,"i":168},{"p":"B","s":"1 dia","w":967,"i":188},{"p":"B","s":"1 dia","w":962,"i":201},{"p":"B","s":"1 dia","w":958,"i":204},{"p":"B","s":"1 dia","w":953,"i":204},{"p":"B","s":"1 dia","w":948,"i":198},{"p":"B","s":"1 dia","w":942,"i":185},{"p":"B","s":"1 dia","w":936,"i":165},{"p":"B","s":"1 dia","w":931,"i":145},{"p":"B","s":"1 dia","w":925,"i":132},{"p":"B","s":"1 dia","w":918,"i":123},{"p":"B","s":"1 dia","w":910,"i":122},{"p":"B","s":"1 dia","w":903,"i":124},{"p":"B","s":"1 dia","w":897,"i":121},{"p":"B","s":"1 dia","w":890,"i":123},{"p":"B","s":"1 dia","w":882,"i":122},{"p":"B","s":"1 dia","w":875,"i":121},{"p":"B","s":"1 dia","w":868,"i":121},{"p":"B","s":"1 dia","w":863,"i":120},{"p":"B","s":"1 dia","w":855,"i":119},{"p":"B","s":"1 dia","w":848,"i":120},{"p":"B","s":"1 dia","w":842,"i":121},{"p":"B","s":"1 dia","w":836,"i":120},{"p":"B","s":"1 dia","w":828,"i":119},{"p":"B","s":"1 dia","w":820,"i":121},{"p":"B","s":"1 dia","w":812,"i":120},{"p":"B","s":"1 dia","w":804,"i":121},{"p":"B","s":"1 dia","w":796,"i":123},{"p":"B","s":"1 dia","w":788,"i":125},{"p":"B","s":"1 dia","w":780,"i":127},{"p":"B","s":"1 dia","w":772,"i":130},{"p":"B","s":"1 dia","w":765,"i":130},{"p":"B","s":"1 dia","w":758,"i":132},{"p":"B","s":"1 dia","w":752,"i":134},{"p":"B","s":"1 dia","w":745,"i":135},{"p":"B","s":"1 dia","w":740,"i":132},{"p":"B","s":"1 dia","w":735,"i":129},{"p":"B","s":"1 dia","w":728,"i":128},{"p":"B","s":"1 dia","w":722,"i":125},{"p":"B","s":"1 dia","w":717,"i":123},{"p":"B","s":"1 dia","w":710,"i":122},{"p":"B","s":"1 dia","w":703,"i":124},{"p":"B","s":"1 dia","w":697,"i":122},{"p":"B","s":"1 dia","w":691,"i":121},{"p":"B","s":"1 dia","w":685,"i":121},{"p":"B","s":"1 dia","w":678,"i":122},{"p":"B","s":"1 dia","w":671,"i":120},{"p":"B","s":"1 dia","w":664,"i":122},{"p":"B","s":"1 dia","w":657,"i":121},{"p":"B","s":"1 dia","w":650,"i":119},{"p":"B","s":"1 dia","w":647,"i":120},{"p":"B","s":"1 dia","w":642,"i":123},{"p":"B","s":"1 dia","w":636,"i":125},{"p":"B","s":"1 dia","w":628,"i":125},{"p":"B","s":"1 dia","w":620,"i":126},{"p":"B","s":"1 dia","w":614,"i":127},{"p":"B","s":"1 dia","w":609,"i":127},{"p":"B","s":"1 dia","w":602,"i":128},{"p":"B","s":"1 dia","w":595,"i":127},{"p":"B","s":"1 dia","w":588,"i":129},{"p":"B","s":"1 dia","w":582,"i":130},{"p":"B","s":"1 dia","w":577,"i":130},{"p":"B","s":"1 dia","w":572,"i":129},{"p":"B","s":"1 dia","w":566,"i":127},{"p":"B","s":"1 dia","w":560,"i":128},{"p":"B","s":"1 dia","w":555,"i":130},{"p":"B","s":"1 dia","w":550,"i":131},{"p":"B","s":"1 dia","w":544,"i":129},{"p":"B","s":"1 dia","w":538,"i":126},{"p":"B","s":"1 dia","w":533,"i":125},{"p":"B","s":"1 dia","w":528,"i":123},{"p":"B","s":"1 dia","w":522,"i":124},{"p":"B","s":"1 dia","w":516,"i":121},{"p":"B","s":"1 dia","w":510,"i":122},{"p":"B","s":"1 dia","w":505,"i":120},{"p":"B","s":"1 dia","w":501,"i":121},{"p":"B","s":"1 dia","w":495,"i":123},{"p":"B","s":"1 dia","w":488,"i":124},{"p":"B","s":"1 dia","w":481,"i":123},{"p":"B","s":"1 dia","w":474,"i":125},{"p":"B","s":"1 dia","w":467,"i":127},{"p":"B","s":"1 dia","w":460,"i":127},{"p":"B","s":"1 dia","w":454,"i":129},{"p":"B","s":"1 dia","w":447,"i":131},{"p":"B","s":"1 dia","w":441,"i":130},{"p":"B","s":"1 dia","w":435,"i":133},{"p":"B","s":"1 dia","w":429,"i":134},{"p":"B","s":"1 dia","w":423,"i":137},{"p":"B","s":"1 dia","w":418,"i":136},{"p":"B","s":"1 dia","w":412,"i":134},{"p":"B","s":"1 dia","w":408,"i":132},{"p":"B","s":"1 dia","w":404,"i":131},{"p":"B","s":"1 dia","w":398,"i":128},{"p":"B","s":"1 dia","w":392,"i":124},{"p":"B","s":"1 dia","w":386,"i":122},{"p":"B","s":"1 dia","w":382,"i":121},{"p":"B","s":"1 dia","w":376,"i":122},{"p":"B","s":"1 dia","w":370,"i":124},{"p":"B","s":"1 dia","w":366,"i":121},{"p":"B","s":"1 dia","w":363,"i":125},{"p":"B","s":"1 dia","w":358,"i":122},{"p":"B","s":"1 dia","w":353,"i":118},{"p":"B","s":"1 dia","w":349,"i":121},{"p":"B","s":"1 dia","w":344,"i":122},{"p":"B","s":"1 dia","w":339,"i":123},{"p":"B","s":"1 dia","w":333,"i":121},{"p":"B","s":"1 dia","w":326,"i":120},{"p":"B","s":"1 dia","w":318,"i":121},
{"p":"B","s":"Controle","w":1150,"i":26},{"p":"B","s":"Controle","w":1143,"i":27},{"p":"B","s":"Controle","w":1136,"i":25},{"p":"B","s":"Controle","w":1128,"i":28},{"p":"B","s":"Controle","w":1120,"i":27},{"p":"B","s":"Controle","w":1113,"i":29},{"p":"B","s":"Controle","w":1107,"i":28},{"p":"B","s":"Controle","w":1100,"i":27},{"p":"B","s":"Controle","w":1093,"i":29},{"p":"B","s":"Controle","w":1086,"i":27},{"p":"B","s":"Controle","w":1078,"i":28},{"p":"B","s":"Controle","w":1069,"i":27},{"p":"B","s":"Controle","w":1062,"i":26},{"p":"B","s":"Controle","w":1055,"i":28},{"p":"B","s":"Controle","w":1049,"i":27},{"p":"B","s":"Controle","w":1042,"i":26},{"p":"B","s":"Controle","w":1035,"i":28},{"p":"B","s":"Controle","w":1028,"i":27},{"p":"B","s":"Controle","w":1020,"i":29},{"p":"B","s":"Controle","w":1015,"i":30},{"p":"B","s":"Controle","w":1008,"i":32},{"p":"B","s":"Controle","w":1000,"i":34},{"p":"B","s":"Controle","w":994,"i":36},{"p":"B","s":"Controle","w":988,"i":39},{"p":"B","s":"Controle","w":981,"i":40},{"p":"B","s":"Controle","w":974,"i":39},{"p":"B","s":"Controle","w":966,"i":41},{"p":"B","s":"Controle","w":960,"i":42},{"p":"B","s":"Controle","w":956,"i":44},{"p":"B","s":"Controle","w":953,"i":47},{"p":"B","s":"Controle","w":949,"i":44},{"p":"B","s":"Controle","w":944,"i":42},{"p":"B","s":"Controle","w":939,"i":40},{"p":"B","s":"Controle","w":933,"i":37},{"p":"B","s":"Controle","w":928,"i":36},{"p":"B","s":"Controle","w":923,"i":35},{"p":"B","s":"Controle","w":918,"i":36},{"p":"B","s":"Controle","w":912,"i":34},{"p":"B","s":"Controle","w":906,"i":35},{"p":"B","s":"Controle","w":901,"i":33},{"p":"B","s":"Controle","w":895,"i":30},{"p":"B","s":"Controle","w":890,"i":28},{"p":"B","s":"Controle","w":885,"i":25},{"p":"B","s":"Controle","w":878,"i":28},{"p":"B","s":"Controle","w":870,"i":29},{"p":"B","s":"Controle","w":864,"i":28},{"p":"B","s":"Controle","w":858,"i":29},{"p":"B","s":"Controle","w":851,"i":26},{"p":"B","s":"Controle","w":846,"i":24},{"p":"B","s":"Controle","w":842,"i":23},{"p":"B","s":"Controle","w":837,"i":25},{"p":"B","s":"Controle","w":832,"i":27},{"p":"B","s":"Controle","w":826,"i":30},{"p":"B","s":"Controle","w":821,"i":29},{"p":"B","s":"Controle","w":815,"i":27},{"p":"B","s":"Controle","w":809,"i":28},{"p":"B","s":"Controle","w":803,"i":33},{"p":"B","s":"Controle","w":799,"i":40},{"p":"B","s":"Controle","w":796,"i":45},{"p":"B","s":"Controle","w":791,"i":57},{"p":"B","s":"Controle","w":786,"i":68},{"p":"B","s":"Controle","w":782,"i":78},{"p":"B","s":"Controle","w":777,"i":90},{"p":"B","s":"Controle","w":773,"i":98},{"p":"B","s":"Controle","w":769,"i":103},{"p":"B","s":"Controle","w":764,"i":107},{"p":"B","s":"Controle","w":759,"i":109},{"p":"B","s":"Controle","w":755,"i":109},{"p":"B","s":"Controle","w":751,"i":106},{"p":"B","s":"Controle","w":747,"i":100},{"p":"B","s":"Controle","w":743,"i":95},{"p":"B","s":"Controle","w":739,"i":91},{"p":"B","s":"Controle","w":734,"i":83},{"p":"B","s":"Controle","w":729,"i":74},{"p":"B","s":"Controle","w":723,"i":65},{"p":"B","s":"Controle","w":717,"i":60},{"p":"B","s":"Controle","w":712,"i":56},{"p":"B","s":"Controle","w":706,"i":51},{"p":"B","s":"Controle","w":701,"i":48},{"p":"B","s":"Controle","w":696,"i":45},{"p":"B","s":"Controle","w":691,"i":40},{"p":"B","s":"Controle","w":685,"i":36},{"p":"B","s":"Controle","w":680,"i":33},{"p":"B","s":"Controle","w":674,"i":32},{"p":"B","s":"Controle","w":668,"i":31},{"p":"B","s":"Controle","w":663,"i":30},{"p":"B","s":"Controle","w":657,"i":29},{"p":"B","s":"Controle","w":650,"i":31},{"p":"B","s":"Controle","w":642,"i":31},{"p":"B","s":"Controle","w":636,"i":30},{"p":"B","s":"Controle","w":630,"i":29},{"p":"B","s":"Controle","w":622,"i":30},{"p":"B","s":"Controle","w":615,"i":28},{"p":"B","s":"Controle","w":609,"i":29},{"p":"B","s":"Controle","w":600,"i":28},{"p":"B","s":"Controle","w":592,"i":27},{"p":"B","s":"Controle","w":585,"i":28},{"p":"B","s":"Controle","w":580,"i":32},{"p":"B","s":"Controle","w":577,"i":36},{"p":"B","s":"Controle","w":572,"i":37},{"p":"B","s":"Controle","w":566,"i":40},{"p":"B","s":"Controle","w":561,"i":43},{"p":"B","s":"Controle","w":556,"i":46},{"p":"B","s":"Controle","w":550,"i":52},{"p":"B","s":"Controle","w":544,"i":60},{"p":"B","s":"Controle","w":538,"i":62},{"p":"B","s":"Controle","w":531,"i":63},{"p":"B","s":"Controle","w":524,"i":64},{"p":"B","s":"Controle","w":517,"i":65},{"p":"B","s":"Controle","w":512,"i":62},{"p":"B","s":"Controle","w":507,"i":56},{"p":"B","s":"Controle","w":503,"i":54},{"p":"B","s":"Controle","w":497,"i":53},{"p":"B","s":"Controle","w":490,"i":50},{"p":"B","s":"Controle","w":484,"i":47},{"p":"B","s":"Controle","w":478,"i":43},{"p":"B","s":"Controle","w":473,"i":40},{"p":"B","s":"Controle","w":469,"i":38},{"p":"B","s":"Controle","w":463,"i":37},{"p":"B","s":"Controle","w":458,"i":35},{"p":"B","s":"Controle","w":452,"i":32},{"p":"B","s":"Controle","w":447,"i":31},{"p":"B","s":"Controle","w":441,"i":30},{"p":"B","s":"Controle","w":435,"i":28},{"p":"B","s":"Controle","w":430,"i":27},{"p":"B","s":"Controle","w":425,"i":26},{"p":"B","s":"Controle","w":420,"i":27},{"p":"B","s":"Controle","w":413,"i":28},{"p":"B","s":"Controle","w":407,"i":26},{"p":"B","s":"Controle","w":400,"i":28},{"p":"B","s":"Controle","w":393,"i":28},{"p":"B","s":"Controle","w":387,"i":27},{"p":"B","s":"Controle","w":380,"i":29},{"p":"B","s":"Controle","w":374,"i":27},{"p":"B","s":"Controle","w":367,"i":28},{"p":"B","s":"Controle","w":361,"i":28},{"p":"B","s":"Controle","w":354,"i":27},{"p":"B","s":"Controle","w":347,"i":28},{"p":"B","s":"Controle","w":340,"i":26},{"p":"B","s":"Controle","w":333,"i":27},{"p":"B","s":"Controle","w":326,"i":26},{"p":"B","s":"Controle","w":318,"i":25}
]},
"hconcat":[
{"width":524,"height":611,
"layer":[
{"data":{"name":"espectros"},"transform":[{"filter":"datum.p === 'A'"}],
"mark":{"type":"line","strokeWidth":2.8,"strokeJoin":"round"},
"encoding":{
"x":{"field":"w","type":"quantitative","scale":{"domain":[300,1150],"reverse":true,"nice":false,"zero":false},
"axis":{"title":null,"values":[300,400,500,600,700,800,900,1000,1100],"format":"d","labelExpr":"datum.value % 200 === 0 ? datum.label : ''","domain":false,"tickSize":7,"tickWidth":2,"tickColor":"black","labelFontSize":22,"labelColor":"#222","labelPadding":6,"grid":false}},
"y":{"field":"i","type":"quantitative","scale":{"domain":[0,611],"nice":false,"zero":false},
"axis":{"title":"Intensidade normalizada","titleFontSize":31,"titleFontWeight":"bold","titleColor":"black","titlePadding":8,"titleY":328,"labels":false,"ticks":false,"domain":false,"grid":false}},
"color":{"field":"s","type":"nominal","scale":{"domain":["FAp","HAp","14 dias","7 dias","1 dia","Controle"],"range":["#00EEEE","#FF00FF","#0000FF","#00EE00","#FF0000","#000000"]},"legend":null}}},
{"data":{"name":"marcadores"},"mark":{"type":"rule","color":"black","strokeWidth":3.5,"strokeCap":"round","strokeDash":[0.1,17.2]},
"encoding":{"x":{"field":"w","type":"quantitative"}}},
{"data":{"name":"rotulos"},"transform":[{"filter":"datum.p === 'A'"}],
"mark":{"type":"text","align":"left","baseline":"alphabetic","fontWeight":"bold","fontSize":16,"color":"#111"},
"encoding":{"x":{"field":"w","type":"quantitative"},"y":{"field":"i","type":"quantitative"},"text":{"field":"t"}}},
{"data":{"name":"paineis"},"transform":[{"filter":"datum.p === 'A'"}],
"mark":{"type":"text","align":"left","baseline":"alphabetic","fontWeight":"bold","fontSize":21,"color":"#111"},
"encoding":{"x":{"field":"w","type":"quantitative"},"y":{"field":"i","type":"quantitative"},"text":{"field":"t"}}}
]},
{"width":513,"height":611,"view":{"stroke":null},
"layer":[
{"data":{"name":"espectros"},"transform":[{"filter":"datum.p === 'B'"}],
"mark":{"type":"line","strokeWidth":2.8,"strokeJoin":"round"},
"encoding":{
"x":{"field":"w","type":"quantitative","scale":{"domain":[318,1150],"reverse":true,"nice":false,"zero":false},
"axis":{"title":null,"values":[400,500,600,700,800,900,1000,1100],"format":"d","labelExpr":"datum.value % 200 === 0 ? datum.label : ''","domain":true,"domainColor":"black","domainWidth":2,"tickSize":7,"tickWidth":2,"tickColor":"black","labelFontSize":22,"labelColor":"#222","labelPadding":6,"grid":false}},
"y":{"field":"i","type":"quantitative","scale":{"domain":[0,611],"nice":false,"zero":false},
"axis":{"title":null,"labels":false,"ticks":false,"domain":true,"domainColor":"black","domainWidth":2,"grid":false}},
"color":{"field":"s","type":"nominal","legend":null}}},
{"data":{"values":[{"i":611}]},"mark":{"type":"rule","color":"black","strokeWidth":2},"encoding":{"y":{"field":"i","type":"quantitative"}}},
{"data":{"name":"marcadores"},"mark":{"type":"rule","color":"black","strokeWidth":3.5,"strokeCap":"round","strokeDash":[0.1,17.2]},
"encoding":{"x":{"field":"w","type":"quantitative"}}},
{"data":{"name":"setas"},"mark":{"type":"rule","color":"#222","strokeWidth":1.5},
"encoding":{"x":{"field":"w","type":"quantitative"},"y":{"field":"i","type":"quantitative"},"y2":{"field":"i2"}}},
{"data":{"name":"setas"},"mark":{"type":"point","shape":"M-0.55,-1L0.55,-1L0,1Z","size":225,"filled":true,"color":"#111","opacity":1,"yOffset":-7.5},
"encoding":{"x":{"field":"w","type":"quantitative"},"y":{"field":"i2","type":"quantitative"}}},
{"data":{"name":"rotulos"},"transform":[{"filter":"datum.p === 'B'"}],
"mark":{"type":"text","align":"left","baseline":"alphabetic","fontWeight":"bold","fontSize":16,"color":"#111","clip":true},
"encoding":{"x":{"field":"w","type":"quantitative"},"y":{"field":"i","type":"quantitative"},"text":{"field":"t"}}},
{"data":{"name":"paineis"},"transform":[{"filter":"datum.p === 'B'"}],
"mark":{"type":"text","align":"left","baseline":"alphabetic","fontWeight":"bold","fontSize":21,"color":"#111"},
"encoding":{"x":{"field":"w","type":"quantitative"},"y":{"field":"i","type":"quantitative"},"text":{"field":"t"}}}
]}
]
}
